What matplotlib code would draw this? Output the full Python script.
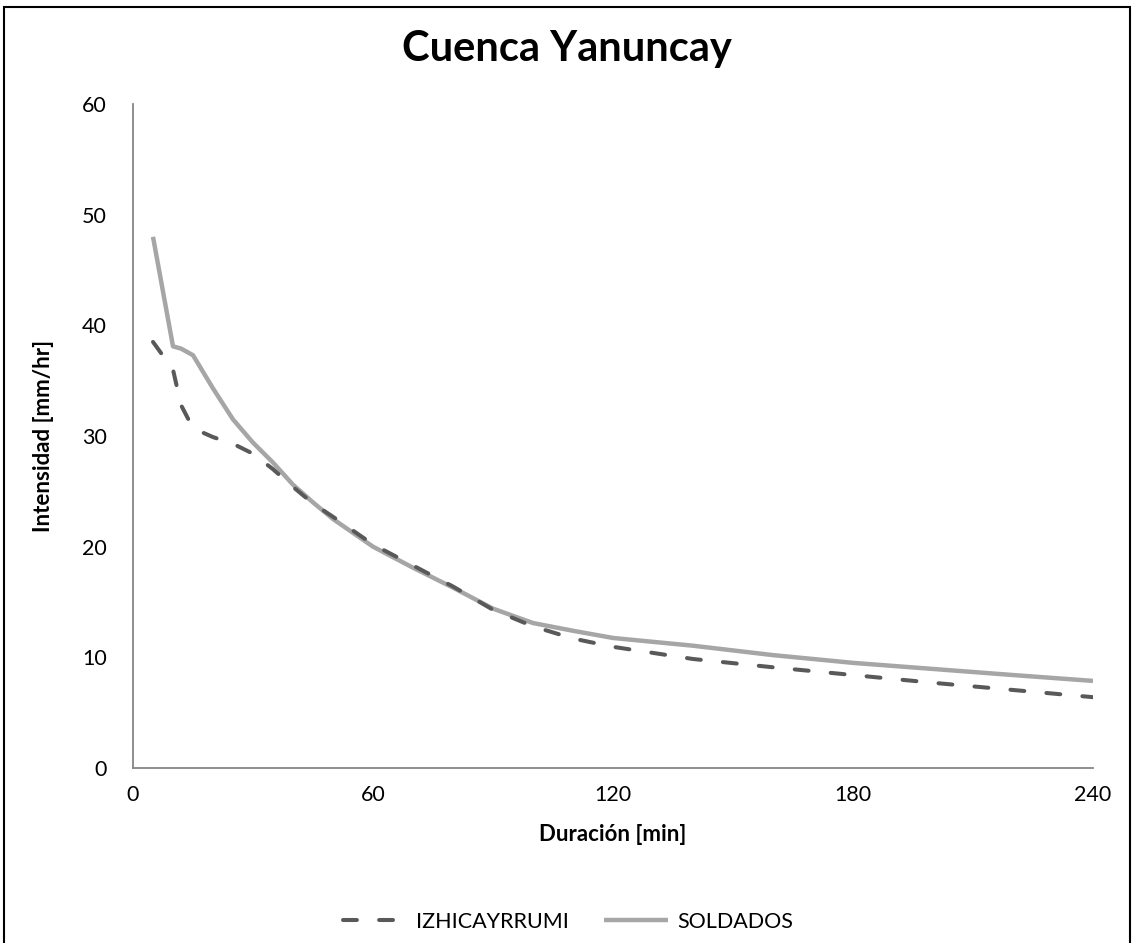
import matplotlib
matplotlib.use("Agg")
import matplotlib.pyplot as plt
from matplotlib.patches import Rectangle

# ---------- DATA ----------
duracion_min = [5, 10, 12, 15, 20, 25, 30, 35, 40, 45, 50, 60, 70, 80, 90,
                100, 110, 120, 140, 160, 180, 200, 220, 240]

izhicayrrumi = [38.5, 36.0, 32.8, 30.7, 29.9, 29.3, 28.4, 27.0, 25.4, 23.9, 22.7,
                20.2, 18.3, 16.4, 14.3, 12.8, 11.7, 10.95, 9.85, 9.1, 8.4,
                7.7, 7.05, 6.4]

soldados = [48.0, 38.1, 37.9, 37.3, 34.3, 31.5, 29.4, 27.6, 25.6, 24.0, 22.5,
            20.0, 18.1, 16.3, 14.4, 13.1, 12.4, 11.75, 11.05, 10.2, 9.5,
            8.95, 8.4, 7.87]

x_ticks = [0, 60, 120, 180, 240]
y_ticks = [0, 10, 20, 30, 40, 50, 60]

FONT = ["Lato", "DejaVu Sans"]
plt.rcParams["font.family"] = FONT
plt.rcParams["lines.scale_dashes"] = False

# ---------- FIGURE ----------
W, H = 1134, 943
fig = plt.figure(figsize=(W / 100, H / 100), dpi=100)
ax = fig.add_axes([133 / W, (H - 768) / H, 960 / W, 664 / H])

ax.plot(duracion_min, izhicayrrumi, color="#595959", linewidth=2.9,
        dashes=(10, 16), dash_capstyle="round", solid_joinstyle="round",
        label="IZHICAYRRUMI", zorder=3)
ax.plot(duracion_min, soldados, color="#A6A6A6", linewidth=3.2,
        solid_capstyle="butt", solid_joinstyle="round", label="SOLDADOS", zorder=2)

ax.set_xlim(0, 240)
ax.set_ylim(0, 60)
ax.set_xticks(x_ticks)
ax.set_yticks(y_ticks)
ax.tick_params(axis="both", length=0, labelsize=15.5, colors="black")
ax.tick_params(axis="y", pad=19)
ax.tick_params(axis="x", pad=12)

for side in ["top", "right"]:
    ax.spines[side].set_visible(False)
for side in ["left", "bottom"]:
    ax.spines[side].set_color("#868686")
    ax.spines[side].set_linewidth(1.3)

ax.set_xlabel("Duración [min]", fontsize=16, fontweight="bold", labelpad=14)
ax.set_ylabel("Intensidad [mm/hr]", fontsize=16, fontweight="bold", labelpad=20)

fig.text(567 / W, 1 - 49 / H, "Cuenca Yanuncay", fontsize=30, fontweight="bold",
         ha="center", va="center")

leg = fig.legend(loc="center", bbox_to_anchor=(568 / W, 1 - 922 / H), ncol=2,
                 frameon=False, fontsize=15.5, handlelength=3.0, columnspacing=1.6,
                 handletextpad=0.4)

# outer chart frame
fig.patches.append(Rectangle((4 / W, -0.02), (1130 - 4) / W, 1 - 7 / H + 0.02,
                             transform=fig.transFigure, fill=False,
                             edgecolor="black", linewidth=1.5))

fig.savefig("out.png", dpi=100)
